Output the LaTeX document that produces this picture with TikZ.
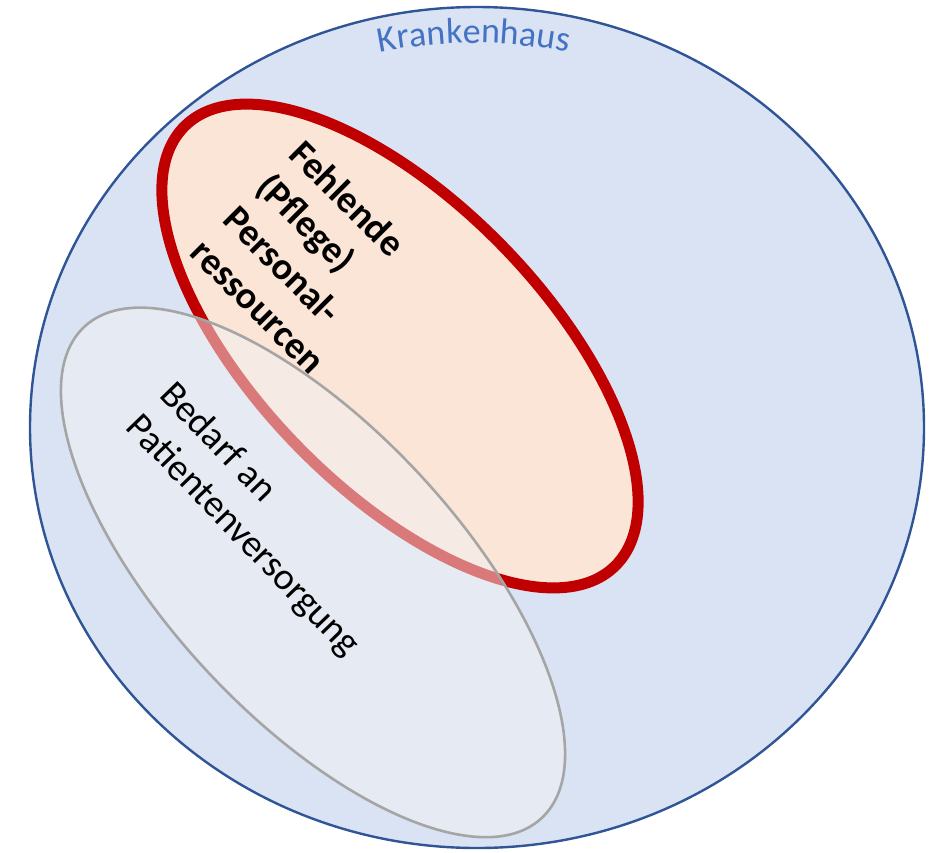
\documentclass[tikz,border=0pt]{standalone}
\usepackage{fontspec}
\setmainfont{Carlito}
\usetikzlibrary{decorations.text}
\definecolor{hospfill}{HTML}{DAE3F3}
\definecolor{hospline}{HTML}{2F5597}
\definecolor{hosptext}{HTML}{4472C4}
\definecolor{staffline}{HTML}{C00000}
\definecolor{stafffill}{HTML}{FBE5D6}
\definecolor{needfill}{HTML}{F2F2F2}
\definecolor{needline}{HTML}{A5A5A5}
\tikzset{
  hospital/.style={draw=hospline, line width=2.4pt, fill=hospfill},
  staff/.style={draw=staffline, line width=11pt, fill=stafffill},
  need/.style={draw=needline, line width=2.6pt, fill=needfill, fill opacity=0.5},
  boldlabel/.style={inner sep=0pt, anchor=base west, font=\fontsize{38}{46}\selectfont\bfseries},
  plainlabel/.style={inner sep=0pt, anchor=base west, font=\fontsize{38}{46}\selectfont},
}
\begin{document}
\begin{tikzpicture}[x=1pt, y=-1pt]
  \useasboundingbox (0,0) rectangle (933,852);
  % hospital
  \draw[hospital] (477,427.5) ellipse [x radius=447, y radius=420.5];
  \path[decorate, decoration={text along path, text align=center,
      text={|\fontsize{36}{36}\selectfont\color{hosptext}|Krankenhaus}}]
    (474,523) ++(255:480) arc [start angle=255, end angle=285, radius=480];
  % missing staff resources
  \draw[staff, rotate around={-45.7:(400,346)}] (400,346) ellipse [x radius=307.7, y radius=143.2];
  \begin{scope}[shift={(287,156)}, rotate=-45, transform shape]
    \node[boldlabel] (f1) at (0,0) {Fehlende};
    \node[boldlabel] (f2) at (0,46.5) {(Pflege)};
    \node[boldlabel] (f3) at (0,93) {Personal-};
    \node[boldlabel] (f4) at (0,139.5) {ressourcen};
  \end{scope}
  % patient care demand
  \draw[need, rotate around={-47.05:(313,572.4)}] (313,572.4) ellipse [x radius=335.6, y radius=144.8];
  \begin{scope}[shift={(158,396)}, rotate=-46, transform shape]
    \node[plainlabel] (b1) at (0,0) {Bedarf an};
    \node[plainlabel] (b2) at (0,46.5) {Patientenversorgung};
  \end{scope}
\end{tikzpicture}
\end{document}
